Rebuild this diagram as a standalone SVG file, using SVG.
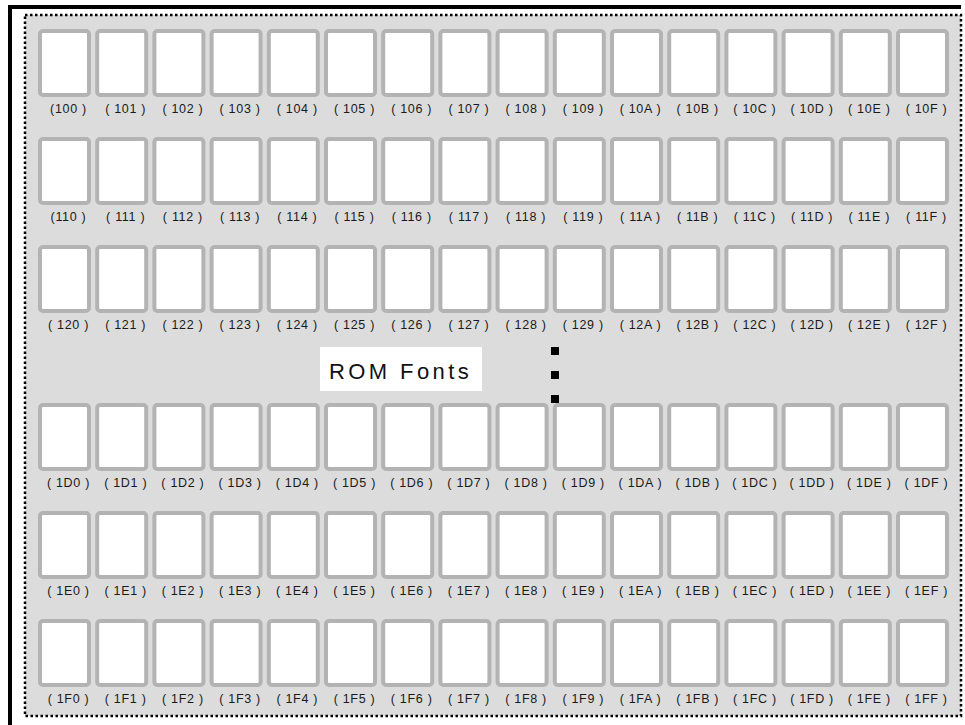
<svg xmlns="http://www.w3.org/2000/svg" xmlns:xlink="http://www.w3.org/1999/xlink" width="965" height="725" viewBox="0 0 965 725">
<style>
.cell{fill:#ffffff;stroke:#b3b3b3;stroke-width:4}
.lbl{font-family:"Liberation Sans",Arial,sans-serif;font-size:12.5px;fill:#1a1a1a;text-anchor:middle;letter-spacing:0.7px}
.title{font-family:"Liberation Sans",Arial,sans-serif;font-size:22px;fill:#111;letter-spacing:3.4px}
</style>
<defs>
<rect id="cs" class="cell" width="49" height="64" rx="3"/>
</defs>
<rect width="965" height="725" fill="#ffffff"/>
<path d="M10,725 V7 H961" fill="none" stroke="#000" stroke-width="4"/>
<rect id="panel" x="25" y="15" width="936" height="701" fill="#dcdcdc" stroke="#000" stroke-width="2.5" stroke-dasharray="2.5 2.5"/>
<g id="rom-label">
<rect x="320" y="347" width="162" height="44" fill="#ffffff"/>
<text class="title" x="329" y="379">ROM Fonts</text>
</g>
<g id="ellipsis">
<rect x="551" y="347" width="8" height="8" fill="#000"/>
<rect x="551" y="371" width="8" height="8" fill="#000"/>
</g>
<g id="r10">
<g id="c100"><use xlink:href="#cs" x="40" y="31"/><text class="lbl" x="68.5" y="113">(100 )</text></g>
<g id="c101"><use xlink:href="#cs" x="97.2" y="31"/><text class="lbl" x="125.7" y="113">( 101 )</text></g>
<g id="c102"><use xlink:href="#cs" x="154.4" y="31"/><text class="lbl" x="182.9" y="113">( 102 )</text></g>
<g id="c103"><use xlink:href="#cs" x="211.6" y="31"/><text class="lbl" x="240.1" y="113">( 103 )</text></g>
<g id="c104"><use xlink:href="#cs" x="268.8" y="31"/><text class="lbl" x="297.3" y="113">( 104 )</text></g>
<g id="c105"><use xlink:href="#cs" x="326" y="31"/><text class="lbl" x="354.5" y="113">( 105 )</text></g>
<g id="c106"><use xlink:href="#cs" x="383.2" y="31"/><text class="lbl" x="411.7" y="113">( 106 )</text></g>
<g id="c107"><use xlink:href="#cs" x="440.4" y="31"/><text class="lbl" x="468.9" y="113">( 107 )</text></g>
<g id="c108"><use xlink:href="#cs" x="497.6" y="31"/><text class="lbl" x="526.1" y="113">( 108 )</text></g>
<g id="c109"><use xlink:href="#cs" x="554.8" y="31"/><text class="lbl" x="583.3" y="113">( 109 )</text></g>
<g id="c10A"><use xlink:href="#cs" x="612" y="31"/><text class="lbl" x="640.5" y="113">( 10A )</text></g>
<g id="c10B"><use xlink:href="#cs" x="669.2" y="31"/><text class="lbl" x="697.7" y="113">( 10B )</text></g>
<g id="c10C"><use xlink:href="#cs" x="726.4" y="31"/><text class="lbl" x="754.9" y="113">( 10C )</text></g>
<g id="c10D"><use xlink:href="#cs" x="783.6" y="31"/><text class="lbl" x="812.1" y="113">( 10D )</text></g>
<g id="c10E"><use xlink:href="#cs" x="840.8" y="31"/><text class="lbl" x="869.3" y="113">( 10E )</text></g>
<g id="c10F"><use xlink:href="#cs" x="898" y="31"/><text class="lbl" x="926.5" y="113">( 10F )</text></g>
</g>
<g id="r11">
<g id="c110"><use xlink:href="#cs" x="40" y="139"/><text class="lbl" x="68.5" y="221">(110 )</text></g>
<g id="c111"><use xlink:href="#cs" x="97.2" y="139"/><text class="lbl" x="125.7" y="221">( 111 )</text></g>
<g id="c112"><use xlink:href="#cs" x="154.4" y="139"/><text class="lbl" x="182.9" y="221">( 112 )</text></g>
<g id="c113"><use xlink:href="#cs" x="211.6" y="139"/><text class="lbl" x="240.1" y="221">( 113 )</text></g>
<g id="c114"><use xlink:href="#cs" x="268.8" y="139"/><text class="lbl" x="297.3" y="221">( 114 )</text></g>
<g id="c115"><use xlink:href="#cs" x="326" y="139"/><text class="lbl" x="354.5" y="221">( 115 )</text></g>
<g id="c116"><use xlink:href="#cs" x="383.2" y="139"/><text class="lbl" x="411.7" y="221">( 116 )</text></g>
<g id="c117"><use xlink:href="#cs" x="440.4" y="139"/><text class="lbl" x="468.9" y="221">( 117 )</text></g>
<g id="c118"><use xlink:href="#cs" x="497.6" y="139"/><text class="lbl" x="526.1" y="221">( 118 )</text></g>
<g id="c119"><use xlink:href="#cs" x="554.8" y="139"/><text class="lbl" x="583.3" y="221">( 119 )</text></g>
<g id="c11A"><use xlink:href="#cs" x="612" y="139"/><text class="lbl" x="640.5" y="221">( 11A )</text></g>
<g id="c11B"><use xlink:href="#cs" x="669.2" y="139"/><text class="lbl" x="697.7" y="221">( 11B )</text></g>
<g id="c11C"><use xlink:href="#cs" x="726.4" y="139"/><text class="lbl" x="754.9" y="221">( 11C )</text></g>
<g id="c11D"><use xlink:href="#cs" x="783.6" y="139"/><text class="lbl" x="812.1" y="221">( 11D )</text></g>
<g id="c11E"><use xlink:href="#cs" x="840.8" y="139"/><text class="lbl" x="869.3" y="221">( 11E )</text></g>
<g id="c11F"><use xlink:href="#cs" x="898" y="139"/><text class="lbl" x="926.5" y="221">( 11F )</text></g>
</g>
<g id="r12">
<g id="c120"><use xlink:href="#cs" x="40" y="247"/><text class="lbl" x="68.5" y="329">( 120 )</text></g>
<g id="c121"><use xlink:href="#cs" x="97.2" y="247"/><text class="lbl" x="125.7" y="329">( 121 )</text></g>
<g id="c122"><use xlink:href="#cs" x="154.4" y="247"/><text class="lbl" x="182.9" y="329">( 122 )</text></g>
<g id="c123"><use xlink:href="#cs" x="211.6" y="247"/><text class="lbl" x="240.1" y="329">( 123 )</text></g>
<g id="c124"><use xlink:href="#cs" x="268.8" y="247"/><text class="lbl" x="297.3" y="329">( 124 )</text></g>
<g id="c125"><use xlink:href="#cs" x="326" y="247"/><text class="lbl" x="354.5" y="329">( 125 )</text></g>
<g id="c126"><use xlink:href="#cs" x="383.2" y="247"/><text class="lbl" x="411.7" y="329">( 126 )</text></g>
<g id="c127"><use xlink:href="#cs" x="440.4" y="247"/><text class="lbl" x="468.9" y="329">( 127 )</text></g>
<g id="c128"><use xlink:href="#cs" x="497.6" y="247"/><text class="lbl" x="526.1" y="329">( 128 )</text></g>
<g id="c129"><use xlink:href="#cs" x="554.8" y="247"/><text class="lbl" x="583.3" y="329">( 129 )</text></g>
<g id="c12A"><use xlink:href="#cs" x="612" y="247"/><text class="lbl" x="640.5" y="329">( 12A )</text></g>
<g id="c12B"><use xlink:href="#cs" x="669.2" y="247"/><text class="lbl" x="697.7" y="329">( 12B )</text></g>
<g id="c12C"><use xlink:href="#cs" x="726.4" y="247"/><text class="lbl" x="754.9" y="329">( 12C )</text></g>
<g id="c12D"><use xlink:href="#cs" x="783.6" y="247"/><text class="lbl" x="812.1" y="329">( 12D )</text></g>
<g id="c12E"><use xlink:href="#cs" x="840.8" y="247"/><text class="lbl" x="869.3" y="329">( 12E )</text></g>
<g id="c12F"><use xlink:href="#cs" x="898" y="247"/><text class="lbl" x="926.5" y="329">( 12F )</text></g>
</g>
<g id="r1D">
<g id="c1D0"><use xlink:href="#cs" x="40" y="405"/><text class="lbl" x="68.5" y="487">( 1D0 )</text></g>
<g id="c1D1"><use xlink:href="#cs" x="97.2" y="405"/><text class="lbl" x="125.7" y="487">( 1D1 )</text></g>
<g id="c1D2"><use xlink:href="#cs" x="154.4" y="405"/><text class="lbl" x="182.9" y="487">( 1D2 )</text></g>
<g id="c1D3"><use xlink:href="#cs" x="211.6" y="405"/><text class="lbl" x="240.1" y="487">( 1D3 )</text></g>
<g id="c1D4"><use xlink:href="#cs" x="268.8" y="405"/><text class="lbl" x="297.3" y="487">( 1D4 )</text></g>
<g id="c1D5"><use xlink:href="#cs" x="326" y="405"/><text class="lbl" x="354.5" y="487">( 1D5 )</text></g>
<g id="c1D6"><use xlink:href="#cs" x="383.2" y="405"/><text class="lbl" x="411.7" y="487">( 1D6 )</text></g>
<g id="c1D7"><use xlink:href="#cs" x="440.4" y="405"/><text class="lbl" x="468.9" y="487">( 1D7 )</text></g>
<g id="c1D8"><use xlink:href="#cs" x="497.6" y="405"/><text class="lbl" x="526.1" y="487">( 1D8 )</text></g>
<g id="c1D9"><use xlink:href="#cs" x="554.8" y="405"/><text class="lbl" x="583.3" y="487">( 1D9 )</text></g>
<g id="c1DA"><use xlink:href="#cs" x="612" y="405"/><text class="lbl" x="640.5" y="487">( 1DA )</text></g>
<g id="c1DB"><use xlink:href="#cs" x="669.2" y="405"/><text class="lbl" x="697.7" y="487">( 1DB )</text></g>
<g id="c1DC"><use xlink:href="#cs" x="726.4" y="405"/><text class="lbl" x="754.9" y="487">( 1DC )</text></g>
<g id="c1DD"><use xlink:href="#cs" x="783.6" y="405"/><text class="lbl" x="812.1" y="487">( 1DD )</text></g>
<g id="c1DE"><use xlink:href="#cs" x="840.8" y="405"/><text class="lbl" x="869.3" y="487">( 1DE )</text></g>
<g id="c1DF"><use xlink:href="#cs" x="898" y="405"/><text class="lbl" x="926.5" y="487">( 1DF )</text></g>
</g>
<g id="r1E">
<g id="c1E0"><use xlink:href="#cs" x="40" y="513"/><text class="lbl" x="68.5" y="595">( 1E0 )</text></g>
<g id="c1E1"><use xlink:href="#cs" x="97.2" y="513"/><text class="lbl" x="125.7" y="595">( 1E1 )</text></g>
<g id="c1E2"><use xlink:href="#cs" x="154.4" y="513"/><text class="lbl" x="182.9" y="595">( 1E2 )</text></g>
<g id="c1E3"><use xlink:href="#cs" x="211.6" y="513"/><text class="lbl" x="240.1" y="595">( 1E3 )</text></g>
<g id="c1E4"><use xlink:href="#cs" x="268.8" y="513"/><text class="lbl" x="297.3" y="595">( 1E4 )</text></g>
<g id="c1E5"><use xlink:href="#cs" x="326" y="513"/><text class="lbl" x="354.5" y="595">( 1E5 )</text></g>
<g id="c1E6"><use xlink:href="#cs" x="383.2" y="513"/><text class="lbl" x="411.7" y="595">( 1E6 )</text></g>
<g id="c1E7"><use xlink:href="#cs" x="440.4" y="513"/><text class="lbl" x="468.9" y="595">( 1E7 )</text></g>
<g id="c1E8"><use xlink:href="#cs" x="497.6" y="513"/><text class="lbl" x="526.1" y="595">( 1E8 )</text></g>
<g id="c1E9"><use xlink:href="#cs" x="554.8" y="513"/><text class="lbl" x="583.3" y="595">( 1E9 )</text></g>
<g id="c1EA"><use xlink:href="#cs" x="612" y="513"/><text class="lbl" x="640.5" y="595">( 1EA )</text></g>
<g id="c1EB"><use xlink:href="#cs" x="669.2" y="513"/><text class="lbl" x="697.7" y="595">( 1EB )</text></g>
<g id="c1EC"><use xlink:href="#cs" x="726.4" y="513"/><text class="lbl" x="754.9" y="595">( 1EC )</text></g>
<g id="c1ED"><use xlink:href="#cs" x="783.6" y="513"/><text class="lbl" x="812.1" y="595">( 1ED )</text></g>
<g id="c1EE"><use xlink:href="#cs" x="840.8" y="513"/><text class="lbl" x="869.3" y="595">( 1EE )</text></g>
<g id="c1EF"><use xlink:href="#cs" x="898" y="513"/><text class="lbl" x="926.5" y="595">( 1EF )</text></g>
</g>
<g id="r1F">
<g id="c1F0"><use xlink:href="#cs" x="40" y="621"/><text class="lbl" x="68.5" y="703">( 1F0 )</text></g>
<g id="c1F1"><use xlink:href="#cs" x="97.2" y="621"/><text class="lbl" x="125.7" y="703">( 1F1 )</text></g>
<g id="c1F2"><use xlink:href="#cs" x="154.4" y="621"/><text class="lbl" x="182.9" y="703">( 1F2 )</text></g>
<g id="c1F3"><use xlink:href="#cs" x="211.6" y="621"/><text class="lbl" x="240.1" y="703">( 1F3 )</text></g>
<g id="c1F4"><use xlink:href="#cs" x="268.8" y="621"/><text class="lbl" x="297.3" y="703">( 1F4 )</text></g>
<g id="c1F5"><use xlink:href="#cs" x="326" y="621"/><text class="lbl" x="354.5" y="703">( 1F5 )</text></g>
<g id="c1F6"><use xlink:href="#cs" x="383.2" y="621"/><text class="lbl" x="411.7" y="703">( 1F6 )</text></g>
<g id="c1F7"><use xlink:href="#cs" x="440.4" y="621"/><text class="lbl" x="468.9" y="703">( 1F7 )</text></g>
<g id="c1F8"><use xlink:href="#cs" x="497.6" y="621"/><text class="lbl" x="526.1" y="703">( 1F8 )</text></g>
<g id="c1F9"><use xlink:href="#cs" x="554.8" y="621"/><text class="lbl" x="583.3" y="703">( 1F9 )</text></g>
<g id="c1FA"><use xlink:href="#cs" x="612" y="621"/><text class="lbl" x="640.5" y="703">( 1FA )</text></g>
<g id="c1FB"><use xlink:href="#cs" x="669.2" y="621"/><text class="lbl" x="697.7" y="703">( 1FB )</text></g>
<g id="c1FC"><use xlink:href="#cs" x="726.4" y="621"/><text class="lbl" x="754.9" y="703">( 1FC )</text></g>
<g id="c1FD"><use xlink:href="#cs" x="783.6" y="621"/><text class="lbl" x="812.1" y="703">( 1FD )</text></g>
<g id="c1FE"><use xlink:href="#cs" x="840.8" y="621"/><text class="lbl" x="869.3" y="703">( 1FE )</text></g>
<g id="c1FF"><use xlink:href="#cs" x="898" y="621"/><text class="lbl" x="926.5" y="703">( 1FF )</text></g>
</g>
<rect x="551" y="395" width="8" height="8" fill="#000"/>
<g id="connectors"/>
</svg>
